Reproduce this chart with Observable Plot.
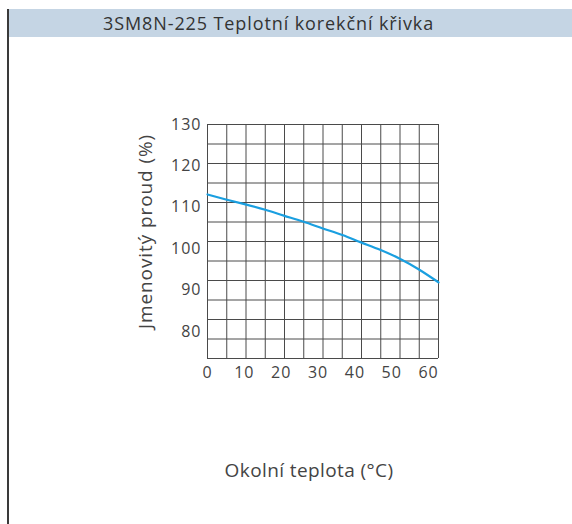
<!DOCTYPE html>
<html>
<head>
<meta charset="utf-8">
<script src="https://cdn.jsdelivr.net/npm/d3@7"></script>
<script src="https://cdn.jsdelivr.net/npm/@observablehq/plot@0.6"></script>
<style>
  html, body { margin: 0; padding: 0; background: #fff; }
  body { width: 572px; height: 524px; position: relative; overflow: hidden; font-family: "Open Sans", sans-serif; }
  #frame { position: absolute; left: 7px; top: 9px; width: 0; height: 515px; border-left: 2px solid #3a3a3a; }
  #title { position: absolute; left: 9px; top: 9px; width: 563px; height: 28px; background: #c5d5e4;
           color: #333; font-size: 18px; letter-spacing: 0.9px; line-height: 28px; box-sizing: border-box; padding-left: 94px; white-space: nowrap; }
  #chart { position: absolute; left: 0; top: 37px; }
  .ticks text { letter-spacing: 1px; }
  .alab text { letter-spacing: 0.9px; }
  .xlab text { letter-spacing: 0.4px; }
</style>
</head>
<body>
<div id="frame"></div>
<div id="title"></div>
<div id="chart"></div>
<script>
const titleText = "3SM8N-225 Teplotní korekční křivka";
const xLabel = "Okolní teplota (°C)";
const yLabel = "Jmenovitý proud (%)";
const xTicks = [0, 10, 20, 30, 40, 50, 60];
const yTicks = [80, 90, 100, 110, 120, 130];
const xDomain = [0, 62.7];
const yDomain = [73.5, 130];
const gridDivisions = 12;

// Curve
const temperature = [0, 5.0, 10.3, 15.7, 20.7, 26.1, 31.3, 36.6, 41.5, 47.0, 52.2, 57.4, 62.7];
const current     = [113.1, 111.9, 110.7, 109.4, 108.0, 106.5, 104.9, 103.3, 101.6, 99.7, 97.6, 95.0, 91.9];

document.getElementById("title").textContent = titleText;

const data = temperature.map((t, i) => ({t, c: current[i]}));
const gx = d3.range(gridDivisions + 1).map(i => xDomain[0] + (xDomain[1] - xDomain[0]) * i / gridDivisions);
const gy = d3.range(gridDivisions + 1).map(i => yDomain[0] + (yDomain[1] - yDomain[0]) * i / gridDivisions);

const chart = Plot.plot({
  width: 572,
  height: 487,
  marginLeft: 207,
  marginRight: 134,
  marginTop: 87,
  marginBottom: 166,
  style: { fontFamily: "Open Sans, sans-serif", fontSize: "16px", color: "#444", background: "transparent", overflow: "visible" },
  x: { domain: xDomain, axis: null },
  y: { domain: yDomain, axis: null },
  marks: [
    Plot.ruleX(gx, { stroke: "#4a4a4a", strokeWidth: 1, strokeOpacity: 1 }),
    Plot.ruleY(gy, { stroke: "#4a4a4a", strokeWidth: 1, strokeOpacity: 1 }),
    Plot.axisX(xTicks, { tickSize: 0, tickPadding: 8, label: null, fontSize: 16, fill: "#444", className: "ticks" }),
    Plot.axisY(yTicks, { tickSize: 0, tickPadding: 6, label: null, fontSize: 16, fill: "#444", className: "ticks" }),
    Plot.line(data, { x: "t", y: "c", stroke: "#1a9fe0", strokeWidth: 2.2, curve: "natural" }),
    Plot.text([xLabel], { frameAnchor: "bottom", dy: 118, fontSize: 19, fill: "#444", dx: -14, className: "xlab" }),
    Plot.text([yLabel], { frameAnchor: "left", textAnchor: "middle", dx: -62, dy: -10, rotate: -90, fontSize: 19, fill: "#444", className: "alab" })
  ]
});
document.getElementById("chart").appendChild(chart);
</script>
</body>
</html>
